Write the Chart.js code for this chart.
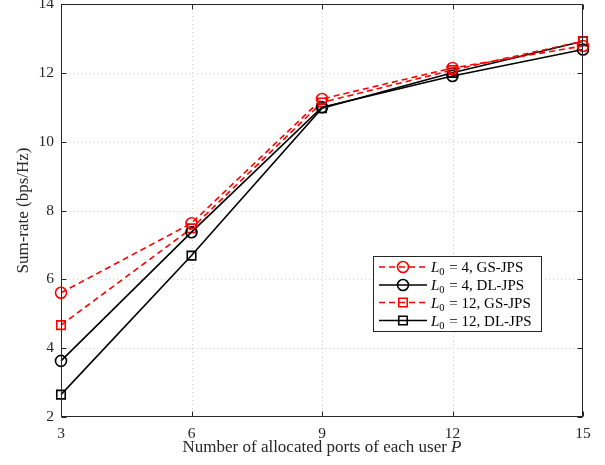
<!DOCTYPE html>
<html><head><meta charset="utf-8">
<script src="https://cdn.jsdelivr.net/npm/chart.js@4.4.0/dist/chart.umd.min.js"></script>
<style>html,body{margin:0;padding:0;background:#fff;}#wrap{width:605px;height:465px;}</style>
</head><body><div id="wrap"><canvas id="c" width="605" height="465"></canvas></div>
<script>
const ports = [3, 6, 9, 12, 15];
const gsL4 = [5.61, 7.63, 11.24, 12.14, 12.78];
const dlL4 = [3.63, 7.37, 11.0, 11.91, 12.68];
const gsL12 = [4.67, 7.48, 11.14, 12.08, 12.92];
const dlL12 = [2.65, 6.69, 10.97, 12.0, 12.92];
const yTicks = [2, 4, 6, 8, 10, 12, 14];
const seriesNames = [
  {l0: '4', rest: ', GS-JPS'},
  {l0: '4', rest: ', DL-JPS'},
  {l0: '12', rest: ', GS-JPS'},
  {l0: '12', rest: ', DL-JPS'}
];
const xTitle = 'Number of allocated ports of each user ';
const xTitleVar = 'P';
const yTitle = 'Sum-rate (bps/Hz)';

const SERIF = '"Liberation Serif", "DejaVu Serif", serif';
const AX = '#262626';

function mk(vals, color, dash, style) {
  return {
    data: ports.map((p, i) => ({x: p, y: vals[i]})),
    borderColor: color, borderWidth: 1.6, borderDash: dash,
    pointStyle: style, pointRadius: style === 'rect' ? 6 : 5.5,
    pointBorderWidth: 1.6, pointBorderColor: color,
    pointBackgroundColor: 'rgba(0,0,0,0)', fill: false, tension: 0, clip: false
  };
}
const datasets = [
  mk(gsL4, '#ff0000', [6, 4], 'circle'),
  mk(dlL4, '#000000', [], 'circle'),
  mk(gsL12, '#ff0000', [6, 4], 'rect'),
  mk(dlL12, '#000000', [], 'rect')
];

function drawMarker(ctx, style, x, y, color) {
  ctx.save(); ctx.strokeStyle = color; ctx.lineWidth = 1.6; ctx.setLineDash([]);
  ctx.beginPath();
  if (style === 'circle') ctx.arc(x, y, 5.5, 0, Math.PI * 2);
  else { const s = 6 * Math.SQRT1_2; ctx.rect(x - s, y - s, 2 * s, 2 * s); }
  ctx.stroke(); ctx.restore();
}

const deco = {
  id: 'deco',
  beforeDatasetsDraw(chart) {
    const {ctx, chartArea: a, scales: {x, y}} = chart;
    ctx.save(); ctx.strokeStyle = '#d0d0d0'; ctx.lineWidth = 1; ctx.setLineDash([1, 3]);
    ports.slice(1, -1).forEach(p => { const px = Math.round(x.getPixelForValue(p)) + 0.5; ctx.beginPath(); ctx.moveTo(px, a.top); ctx.lineTo(px, a.bottom); ctx.stroke(); });
    yTicks.slice(1, -1).forEach(v => { const py = Math.round(y.getPixelForValue(v)) + 0.5; ctx.beginPath(); ctx.moveTo(a.left, py); ctx.lineTo(a.right, py); ctx.stroke(); });
    ctx.restore();
  },
  afterDatasetsDraw(chart) {
    const {ctx, chartArea: a, scales: {x, y}} = chart;
    ctx.save();
    ctx.strokeStyle = AX; ctx.lineWidth = 1; ctx.setLineDash([]);
    const L = Math.round(a.left) + 0.5, R = Math.round(a.right) - 0.5, T = Math.round(a.top) + 0.5, B = Math.round(a.bottom) - 0.5;
    ctx.strokeRect(L, T, R - L, B - T);
    const tl = 5;
    ports.forEach(p => { const px = Math.round(x.getPixelForValue(p)) + 0.5; ctx.beginPath(); ctx.moveTo(px, B); ctx.lineTo(px, B - tl); ctx.moveTo(px, T); ctx.lineTo(px, T + tl); ctx.stroke(); });
    yTicks.forEach(v => { const py = Math.round(y.getPixelForValue(v)) + 0.5; ctx.beginPath(); ctx.moveTo(L, py); ctx.lineTo(L + tl, py); ctx.moveTo(R, py); ctx.lineTo(R - tl, py); ctx.stroke(); });

    // axis titles
    ctx.fillStyle = AX; ctx.textBaseline = 'alphabetic';
    ctx.font = '17px ' + SERIF;
    const w1 = ctx.measureText(xTitle).width;
    ctx.font = 'italic 17px ' + SERIF;
    const w2 = ctx.measureText(xTitleVar).width;
    const cx = (a.left + a.right) / 2, sx = cx - (w1 + w2) / 2;
    ctx.font = '17px ' + SERIF; ctx.textAlign = 'left';
    ctx.fillText(xTitle, sx, 452);
    ctx.font = 'italic 17px ' + SERIF; ctx.fillText(xTitleVar, sx + w1, 452);
    ctx.save(); ctx.translate(28, (a.top + a.bottom) / 2); ctx.rotate(-Math.PI / 2);
    ctx.font = '17px ' + SERIF; ctx.textAlign = 'center'; ctx.fillText(yTitle, 0, 0); ctx.restore();

    // legend
    const bx = 373.5, by = 256.5, bw = 168, bh = 75;
    ctx.fillStyle = '#fff'; ctx.fillRect(bx, by, bw, bh);
    ctx.strokeStyle = AX; ctx.lineWidth = 1; ctx.strokeRect(bx, by, bw, bh);
    const rows = [267, 285, 302.5, 320.5];
    datasets.forEach((d, i) => {
      const ry = rows[i];
      ctx.save(); ctx.strokeStyle = d.borderColor; ctx.lineWidth = 1.6; ctx.setLineDash(d.borderDash);
      ctx.beginPath(); ctx.moveTo(379, ry); ctx.lineTo(427, ry); ctx.stroke(); ctx.restore();
      drawMarker(ctx, d.pointStyle, 403, ry, d.borderColor);
      let tx = 431; const base = ry + 5;
      ctx.fillStyle = '#000'; ctx.textAlign = 'left';
      ctx.font = 'italic 15px ' + SERIF; ctx.fillText('L', tx, base); tx += ctx.measureText('L').width;
      ctx.font = '10.5px ' + SERIF; ctx.fillText('0', tx, base + 3); tx += ctx.measureText('0').width + 1;
      ctx.font = '15px ' + SERIF;
      const t = ' = ' + seriesNames[i].l0 + seriesNames[i].rest;
      ctx.fillText(t, tx, base);
    });
    ctx.restore();
  }
};

new Chart(document.getElementById('c'), {
  type: 'line',
  data: {datasets},
  options: {
    responsive: false, animation: false,
    layout: {autoPadding: false, padding: {left: 0, right: 22, top: 4, bottom: 0}},
    plugins: {legend: {display: false}, tooltip: {enabled: false}},
    scales: {
      x: {
        type: 'linear', min: 3, max: 15,
        afterBuildTicks: s => { s.ticks = ports.map(v => ({value: v})); },
        afterFit: s => { s.height = 48; s.paddingLeft = 0; s.paddingRight = 0; },
        grid: {display: false, drawTicks: false}, border: {display: false},
        ticks: {padding: 8, color: AX, font: {family: SERIF, size: 15.5}, maxRotation: 0}
      },
      y: {
        min: 2, max: 14,
        afterBuildTicks: s => { s.ticks = yTicks.map(v => ({value: v})); },
        afterFit: s => { s.width = 61; s.paddingTop = 0; s.paddingBottom = 0; },
        grid: {display: false, drawTicks: false}, border: {display: false},
        ticks: {padding: 7, color: AX, font: {family: SERIF, size: 15.5}}
      }
    }
  },
  plugins: [deco]
});
</script></body></html>
